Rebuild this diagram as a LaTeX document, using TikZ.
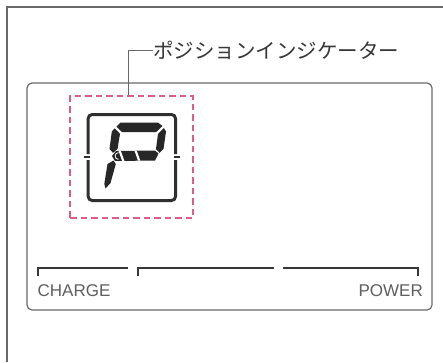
\documentclass[tikz,border=0pt]{standalone}
\usepackage{fontspec}
\setsansfont{Liberation Sans}
\newfontfamily\jpfont{Noto Sans CJK JP}
\usetikzlibrary{positioning}

\definecolor{framegray}{RGB}{105,105,105}
\definecolor{inkgray}{RGB}{55,55,55}
\definecolor{labelgray}{RGB}{95,95,95}
\definecolor{markpink}{RGB}{222,92,140}

\begin{document}
\begin{tikzpicture}[x=1pt, y=-1pt,
  lcd/.style={draw=framegray, line width=1.2pt, rounded corners=5pt,
              minimum width=405pt, minimum height=227pt, inner sep=0pt},
  markbox/.style={draw=markpink, line width=1.5pt, dash pattern=on 6.5pt off 4pt,
               minimum width=123pt, minimum height=122pt, inner sep=0pt},
  lead/.style={draw=framegray, line width=1pt},
  seg/.style={fill=inkgray!70!black},
  bar/.style={draw=inkgray, line width=2pt},
  barlabel/.style={font=\sffamily\fontsize{17}{17}\selectfont, text=labelgray,
              inner sep=0pt}]

  \useasboundingbox (0,0) rectangle (443,362);
  \fill[white] (0,0) rectangle (443,362);

  % outer frame (only top and left edges show)
  \draw[framegray, line width=1.2pt] (7,362) -- (7,7) -- (443,7);

  \node[lcd] (display) at (229.5,196.5) {};
  \node[markbox] (posframe) at (131.5,157) {};
  \node[anchor=west, inner sep=0pt, text=inkgray,
        font=\jpfont\fontsize{20.5}{20.5}\selectfont]
    (poslabel) at (153,50) {ポジションインジケーター};
  \draw[lead] ([xshift=-3pt]posframe.north) |- (poslabel.west);

  % digit window with side gaps
  \begin{scope}[draw=inkgray!85!black, line width=3pt]
    \draw[rounded corners=4pt] (88.2,154) -- (88.2,114.5) -- (175.5,114.5)
      -- (175.5,154);
    \draw[rounded corners=4pt] (88.2,160) -- (88.2,200.5) -- (175.5,200.5)
      -- (175.5,160);
    \draw[line width=1.4pt] (84,157) -- (89.5,157);
    \draw[line width=1.4pt] (174.2,157) -- (179.5,157);
  \end{scope}

  % segments of the letter P
  \fill[seg] (116.5,126.5) -- (120.5,122.6) -- (158,122.6) -- (162.5,126)
    -- (156,132.2) -- (122.2,132.2) -- cycle;
  \fill[seg] (114.8,128.3) -- (120,133.8) -- (117.5,149) -- (113,152.8)
    -- (109.5,149) -- (111.8,131.5) -- cycle;
  \fill[seg] (163.8,128) -- (166,131.5) -- (163.5,149) -- (159.5,152.8)
    -- (156,149) -- (158,134) -- cycle;
  \fill[seg] (113.5,160.5) -- (115.8,164) -- (110.5,183) -- (105.5,188.5)
    -- (104.3,184) -- (107.5,164) -- cycle;
  \begin{scope}
    \clip (112,156) -- (116,151) -- (155,150.5) -- (158.5,153.5)
      -- (155,160.5) -- (115,161) -- cycle;
    \fill[seg] (100,145) rectangle (165,165);
    \draw[white, line width=2.2pt] (119,149) -- (124,163);
    \draw[white, line width=2.2pt] (135,149) -- (140,163);
    \draw[white, line width=0.8pt] (118.5,152.6) arc[start angle=90,
      end angle=270, radius=3.4pt];
  \end{scope}

  % charge / power bars
  \draw[bar] (38,276) -- (38,268) -- (128,268);
  \draw[bar] (138,276) -- (138,268) -- (274,268);
  \draw[bar] (283,268) -- (418,268) -- (418,276);
  \node[barlabel, anchor=base west] (charge) at (37.5,296) {CHARGE};
  \node[barlabel, anchor=base east] (power) at (423,296) {POWER};
\end{tikzpicture}
\end{document}
